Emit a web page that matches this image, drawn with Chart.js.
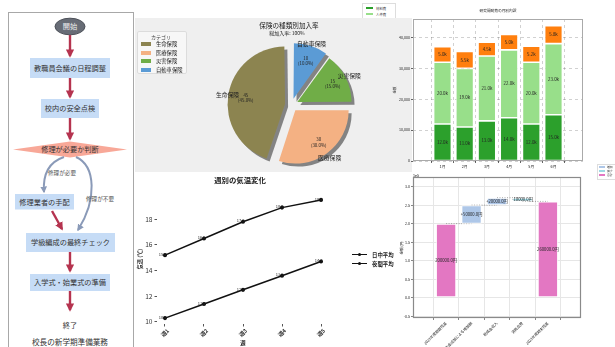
<!DOCTYPE html>
<html>
<head>
<meta charset="utf-8">
<script src="https://cdn.jsdelivr.net/npm/chart.js@4.4.0/dist/chart.umd.min.js"></script>
<style>
  body { margin: 0; width: 615px; height: 347px; overflow: hidden; background: #fff; position: relative;
         font-family: "Noto Sans CJK JP", "Noto Sans", sans-serif; }
  canvas, .abs { position: absolute; }
  .c { position: absolute; transform: translate(-50%, -50%); white-space: nowrap; color: #222; line-height: 1; }
  #piePanel { position: absolute; left: 135px; top: 18px; width: 277px; height: 154px; background: #efefef; z-index: 2; }
  #pie { left: 0; top: 0; }
  #bar { left: 390px; top: 0; z-index: 3; }
  #line { left: 134px; top: 172px; z-index: 3; }
  #fall { left: 390px; top: 172px; z-index: 4; }
</style>
</head>
<body>

<!-- 校長の新学期準備業務 フローチャート -->
<svg class="abs" style="left:0;top:0" width="135" height="347">
  <defs>
    <marker id="mr" viewBox="0 0 10 10" refX="8" refY="5" markerWidth="3.4" markerHeight="3.4" orient="auto">
      <path d="M0,0L10,5L0,10z" fill="#b5334f"/>
    </marker>
    <marker id="mb" viewBox="0 0 10 10" refX="8" refY="5" markerWidth="3.4" markerHeight="3.4" orient="auto">
      <path d="M0,0L10,5L0,10z" fill="#8a9ab8"/>
    </marker>
  </defs>
  <rect x="8.5" y="12.5" width="125" height="350" fill="#fff" stroke="#a8a8a8"/>
  <g font-family="Noto Sans CJK JP" font-size="7.2" fill="#333" text-anchor="middle">
    <ellipse cx="70" cy="26.5" rx="15" ry="8.3" fill="#676c76" stroke="#4b4f57"/>
    <text x="70" y="29" fill="#eee">開始</text>
    <line x1="70" y1="35" x2="70" y2="56" stroke="#b5334f" stroke-width="2.4" marker-end="url(#mr)"/>

    <rect x="30" y="58" width="80" height="20" fill="#c6dcf6"/>
    <text x="70" y="70.5">教職員会議の日程調整</text>
    <line x1="70" y1="78" x2="70" y2="97" stroke="#b5334f" stroke-width="2.4" marker-end="url(#mr)"/>

    <rect x="41" y="99" width="58" height="19" fill="#c6dcf6"/>
    <text x="70" y="111">校内の安全点検</text>
    <line x1="70" y1="118" x2="70" y2="139" stroke="#b5334f" stroke-width="2.4" marker-end="url(#mr)"/>

    <polygon points="13,149.5 70,141.5 127,149.5 70,157.5" fill="#f8a898"/>
    <text x="70" y="152">修理が必要か判断</text>

    <path d="M64 157 C46 163, 43 178, 44 192" fill="none" stroke="#8a9ab8" stroke-width="2" marker-end="url(#mb)"/>
    <path d="M76 157 C96 166, 97 200, 78 230" fill="none" stroke="#8a9ab8" stroke-width="2" marker-end="url(#mb)"/>
    <text x="62" y="174.5" font-size="5.6" fill="#555">修理が必要</text>
    <text x="100" y="201" font-size="5.6" fill="#555">修理が不要</text>

    <rect x="15" y="194" width="59" height="15.5" fill="#c6dcf6"/>
    <text x="44.5" y="204.5">修理業者の手配</text>
    <line x1="52" y1="211" x2="62" y2="229" stroke="#b5334f" stroke-width="2.4" marker-end="url(#mr)"/>

    <rect x="26" y="233" width="89" height="19" fill="#c6dcf6"/>
    <text x="70.5" y="245">学級編成の最終チェック</text>
    <line x1="70" y1="252" x2="70" y2="271" stroke="#b5334f" stroke-width="2.4" marker-end="url(#mr)"/>

    <rect x="30" y="274" width="80" height="17" fill="#c6dcf6"/>
    <text x="70" y="285">入学式・始業式の準備</text>
    <line x1="70" y1="291" x2="70" y2="310" stroke="#b5334f" stroke-width="2.4" marker-end="url(#mr)"/>

    <text x="70" y="328">終了</text>
    <text x="70" y="345" font-size="7.6">校長の新学期準備業務</text>
  </g>
</svg>

<!-- 研究開発費 凡例（上半分のみ見える） -->
<div class="abs" style="left:362px;top:3px;width:32px;height:22px;background:#fff;border:1px solid #ddd;z-index:1"></div>
<div class="abs" id="barLegend" style="left:366px;top:5px;z-index:1"></div>

<div id="piePanel">
  <canvas id="pie" width="277" height="154"></canvas>
  <div class="c" style="left:154px;top:7px;font-size:6.6px">保険の種類別加入率</div>
  <div class="c" style="left:152px;top:13.5px;font-size:5px">総加入率: 100%</div>
  <div class="abs" style="left:2px;top:13px;width:48px;height:41px;background:#f7f7f7;border:1px solid #dcdcdc;border-radius:2px"></div>
  <div class="c" style="left:26px;top:17.5px;font-size:5px;color:#444">カテゴリ</div>
  <div class="abs" id="pieLegend" style="left:6px;top:22px"></div>
</div>

<canvas id="bar" width="225" height="177"></canvas>
<div class="c" style="left:498px;top:11px;font-size:3.7px;z-index:5">研究開発費の月別内訳</div>

<canvas id="line" width="256" height="175"></canvas>
<div class="c" style="left:240px;top:180px;font-size:7.4px;font-weight:bold;z-index:5">週別の気温変化</div>
<div class="abs" id="lineLegend" style="left:352px;top:250px;z-index:5"></div>

<canvas id="fall" width="225" height="175"></canvas>
<div class="abs" style="left:597px;top:164px;width:20px;height:14px;background:#fff;border:1px solid #ddd;z-index:5"></div>
<div class="abs" id="fallLegend" style="left:599px;top:165px;z-index:6"></div>

<script>
// ---- 保険の種類別加入率 ----
const insuranceLabels = ['生命保険', '医療保険', '災害保険', '自動車保険'];
const insuranceValues = [45, 30, 15, 10];
const insuranceColors = ['#8c8450', '#f4b183', '#70ad47', '#5b9bd5'];

// ---- 研究開発費の月別内訳 ----
const months = ['1月', '2月', '3月', '4月', '5月', '6月'];
const costNames = ['材料費', '人件費', 'その他'];
const materialCost = [12000, 11000, 13000, 14000, 12000, 15000];
const laborCost = [20000, 19000, 21000, 22000, 20000, 23000];
const otherCost = [5000, 5500, 4500, 5000, 5200, 5800];
const costColors = ['#2ca02c', '#98df8a', '#ff7f0e'];
const costTicks = [0, 10000, 20000, 30000, 40000];

// ---- 週別の気温変化 ----
const weeks = ['週1', '週2', '週3', '週4', '週5'];
const dayTemp = [15.2, 16.5, 17.8, 18.9, 19.5];
const nightTemp = [10.3, 11.4, 12.5, 13.6, 14.7];
const tempTicks = [10, 12, 14, 16, 18];

// ---- 予算の増減（ウォーターフォール）----
const stepLabels = ['2023年度期首残高', '補助金追加による増加額', '助成金収入', '消耗品費', '2023年度期末残高'];
const stepValues = [200000, 50000, 20000, -10000, 260000];
const stepKinds = ['total', 'up', 'up', 'down', 'total'];
const kindNames = { up: '増加', down: '減少', total: '合計' };
const kindColors = { up: '#aec7e8', down: '#9edae5', total: '#e377c2' };
const fallTicks = [-50000, 0, 50000, 100000, 150000, 200000, 250000, 300000];

Chart.defaults.font.family = '"Noto Sans CJK JP", "Noto Sans", sans-serif';
Chart.defaults.color = '#222';
Chart.defaults.animation = false;
Chart.defaults.responsive = false;
Chart.defaults.plugins.legend.display = false;
Chart.defaults.plugins.tooltip.enabled = false;

const FONT = '"Noto Sans CJK JP", sans-serif';

// 枠線
const framePlugin = {
  id: 'frame',
  afterDraw(chart, args, opts) {
    const a = chart.chartArea, ctx = chart.ctx;
    ctx.save();
    ctx.strokeStyle = opts.color || '#999';
    ctx.lineWidth = opts.width || 1;
    ctx.strokeRect(a.left + 0.5, a.top + 0.5, a.right - a.left - 1, a.bottom - a.top - 1);
    ctx.restore();
  }
};

// ===== 円グラフ =====
const pieOrder = insuranceLabels.map((_, i) => i).reverse();   // matplotlib風に反時計回り

const shadowPlugin = {
  id: 'shadow',
  beforeDatasetsDraw(c) {
    c.ctx.save();
    c.ctx.shadowColor = 'rgba(0,0,0,0.45)';
    c.ctx.shadowOffsetX = 3;
    c.ctx.shadowOffsetY = 3;
  },
  afterDatasetsDraw(c) { c.ctx.restore(); }
};

const pieLabelPlugin = {
  id: 'pieLabels',
  afterDatasetsDraw(chart) {
    const ctx = chart.ctx;
    const ds = chart.data.datasets[0];
    const total = ds.data.reduce((a, b) => a + b, 0);
    chart.getDatasetMeta(0).data.forEach((arc, i) => {
      const mid = (arc.startAngle + arc.endAngle) / 2;
      const shift = arc.options.offset / 4;
      const cx = arc.x + Math.cos(mid) * shift;
      const cy = arc.y + Math.sin(mid) * shift;
      const r = arc.outerRadius;
      ctx.save();
      ctx.fillStyle = '#222';
      ctx.textAlign = 'center';
      ctx.textBaseline = 'middle';
      ctx.font = '5.8px ' + FONT;
      ctx.fillText(chart.data.labels[i], cx + Math.cos(mid) * r * 1.1, cy + Math.sin(mid) * r * 1.1);
      const px = cx + Math.cos(mid) * r * 0.75, py = cy + Math.sin(mid) * r * 0.75;
      ctx.font = '4.4px ' + FONT;
      ctx.fillText(String(ds.data[i]), px, py - 2.6);
      ctx.fillText('(' + (ds.data[i] / total * 100).toFixed(1) + '%)', px, py + 2.6);
      ctx.restore();
    });
  }
};

new Chart(document.getElementById('pie'), {
  type: 'pie',
  data: {
    labels: pieOrder.map(i => insuranceLabels[i]),
    datasets: [{
      data: pieOrder.map(i => insuranceValues[i]),
      backgroundColor: pieOrder.map(i => insuranceColors[i]),
      borderWidth: 0,
      offset: 26,
      radius: 53
    }]
  },
  options: {
    radius: 53,
    layout: { padding: { left: 36, top: 20 } }
  },
  plugins: [shadowPlugin, pieLabelPlugin]
});

document.getElementById('pieLegend').innerHTML = insuranceLabels.map((l, i) =>
  `<div style="display:flex;align-items:center;height:8.5px;font-size:5.3px;color:#222">
     <span style="display:inline-block;width:10px;height:4px;background:${insuranceColors[i]};margin-right:5px"></span>${l}</div>`
).join('');

// ===== 積み上げ棒グラフ =====
const barLabelPlugin = {
  id: 'barLabels',
  afterDatasetsDraw(chart) {
    const ctx = chart.ctx;
    ctx.save();
    ctx.font = '4.4px ' + FONT;
    ctx.fillStyle = '#222';
    ctx.textAlign = 'center';
    ctx.textBaseline = 'middle';
    chart.data.datasets.forEach((ds, di) => {
      chart.getDatasetMeta(di).data.forEach((el, i) => {
        ctx.fillText((ds.data[i].y / 1000).toFixed(1) + 'k', el.x, (el.y + el.base) / 2);
      });
    });
    ctx.restore();
  }
};

const costSeries = [materialCost, laborCost, otherCost];
new Chart(document.getElementById('bar'), {
  type: 'bar',
  data: {
    datasets: costSeries.map((s, k) => ({
      label: costNames[k],
      data: s.map((v, i) => ({ x: i, y: v })),
      backgroundColor: costColors[k],
      borderColor: '#fff',
      borderWidth: 0.8,
      borderSkipped: false,
      barPercentage: 0.8,
      categoryPercentage: 1
    }))
  },
  options: {
    layout: { padding: { left: 0, top: 19, right: 32, bottom: 0 } },
    scales: {
      x: {
        type: 'linear', stacked: true, min: -0.69, max: 5.69,
        afterBuildTicks: s => { s.ticks = months.map((_, i) => ({ value: i })); },
        ticks: { callback: v => months[v], font: { size: 3.8 }, padding: 1, maxRotation: 0 },
        grid: { color: 'rgba(0,0,0,0.18)', tickLength: 2, tickColor: '#666' },
        border: { display: false, dash: [3, 3] },
        afterFit: s => { s.height = 16; }
      },
      y: {
        stacked: true, min: 0, max: 45990,
        afterBuildTicks: s => { s.ticks = costTicks.map(v => ({ value: v })); },
        ticks: { font: { size: 3.6 }, padding: 1 },
        grid: { color: 'rgba(0,0,0,0.18)', tickLength: 2, tickColor: '#666' },
        border: { display: false, dash: [3, 3] },
        title: { display: true, text: '金額', font: { size: 3.4 }, padding: { top: 3 } },
        afterFit: s => { s.width = 23; }
      }
    },
    plugins: { frame: { color: '#aaa' } }
  },
  plugins: [framePlugin, barLabelPlugin]
});

document.getElementById('barLegend').innerHTML = costNames.map((n, i) =>
  `<div style="display:flex;align-items:center;height:6px;font-size:3.4px;color:#333">
     <span style="display:inline-block;width:7px;height:2.5px;background:${costColors[i]};margin-right:3px"></span>${n}</div>`
).join('');

// ===== 折れ線グラフ =====
const pointLabelPlugin = {
  id: 'pointLabels',
  afterDatasetsDraw(chart) {
    const ctx = chart.ctx;
    ctx.save();
    ctx.font = '4px ' + FONT;
    ctx.fillStyle = '#222';
    ctx.textAlign = 'right';
    ctx.textBaseline = 'middle';
    chart.data.datasets.forEach((ds, di) => {
      chart.getDatasetMeta(di).data.forEach((pt, i) => {
        ctx.fillText(ds.data[i].y.toFixed(1), pt.x + 1.5, pt.y - 0.8);
      });
    });
    ctx.restore();
  }
};

const tempSeries = [dayTemp, nightTemp];
const tempNames = ['日中平均', '夜間平均'];
new Chart(document.getElementById('line'), {
  type: 'line',
  data: {
    datasets: tempSeries.map((s, k) => ({
      label: tempNames[k],
      data: s.map((v, i) => ({ x: i, y: v })),
      borderColor: '#111',
      backgroundColor: '#111',
      borderWidth: 1.5,
      pointRadius: 1.3,
      tension: 0
    }))
  },
  options: {
    layout: { padding: { left: 0, top: 22, right: 61, bottom: 0 } },
    scales: {
      x: {
        type: 'linear', min: -0.205, max: 4.205,
        afterBuildTicks: s => { s.ticks = weeks.map((_, i) => ({ value: i })); },
        ticks: { callback: v => weeks[v], font: { size: 5.4, weight: 'bold' }, minRotation: 45, maxRotation: 45, padding: 1, labelOffset: 3, color: '#333' },
        grid: { drawOnChartArea: false, tickLength: 2.5, tickColor: '#555' },
        border: { display: false },
        title: { display: true, text: '週', font: { size: 5.4, weight: 'bold' }, padding: { top: 0, bottom: 1 } },
        afterFit: s => { s.height = 23; }
      },
      y: {
        min: 9.84, max: 19.96,
        afterBuildTicks: s => { s.ticks = tempTicks.map(v => ({ value: v })); },
        ticks: { font: { size: 6.6 }, padding: 2, color: '#333' },
        grid: { drawOnChartArea: false, tickLength: 2.5, tickColor: '#555' },
        border: { display: false },
        title: { display: true, text: '気温 (℃)', font: { size: 5.2, weight: 'bold' }, padding: { top: 3 } },
        afterFit: s => { s.width = 23; }
      }
    }
  },
  plugins: [pointLabelPlugin]
});

document.getElementById('lineLegend').innerHTML = tempNames.map(n =>
  `<div style="display:flex;align-items:center;height:9px;font-size:5.4px;font-weight:bold;color:#222">
     <span style="position:relative;display:inline-block;width:15px;height:1.5px;background:#111;margin-right:5px">
       <span style="position:absolute;left:6px;top:-1px;width:3px;height:3px;border-radius:50%;background:#111"></span></span>${n}</div>`
).join('');

// ===== ウォーターフォール =====
const fallBars = [];
const fallLevels = [];
let running = 0;
stepValues.forEach((v, i) => {
  if (stepKinds[i] === 'total') { fallBars.push([0, v]); running = v; }
  else { fallBars.push([Math.min(running, running + v), Math.max(running, running + v)]); running += v; }
  fallLevels.push(running);
});

const connectorPlugin = {
  id: 'connectors',
  beforeDatasetsDraw(chart) {
    const { ctx, scales: { x, y } } = chart;
    ctx.save();
    ctx.strokeStyle = '#888';
    ctx.lineWidth = 0.8;
    ctx.setLineDash([1, 1.5]);
    for (let i = 0; i < fallLevels.length - 1; i++) {
      const py = y.getPixelForValue(fallLevels[i]);
      ctx.beginPath();
      ctx.moveTo(x.getPixelForValue(i), py);
      ctx.lineTo(x.getPixelForValue(i + 1), py);
      ctx.stroke();
    }
    ctx.restore();
  },
  afterDatasetsDraw(chart) {
    const ctx = chart.ctx;
    ctx.save();
    ctx.font = '4.2px ' + FONT;
    ctx.fillStyle = '#222';
    ctx.textAlign = 'center';
    ctx.textBaseline = 'middle';
    chart.getDatasetMeta(0).data.forEach((el, i) => {
      const v = stepValues[i];
      const txt = (stepKinds[i] === 'total' ? '' : (v > 0 ? '+' : '')) + v.toFixed(1) + '円';
      ctx.fillText(txt, el.x, (el.y + el.base) / 2);
    });
    const a = chart.chartArea;
    ctx.font = '3.6px ' + FONT;
    ctx.textAlign = 'left';
    ctx.textBaseline = 'bottom';
    ctx.fillText('1e5', a.left, a.top);
    ctx.restore();
  }
};

new Chart(document.getElementById('fall'), {
  type: 'bar',
  data: {
    datasets: [{
      data: fallBars.map((b, i) => ({ x: i, y: b })),
      backgroundColor: stepKinds.map(k => kindColors[k]),
      borderColor: 'rgba(255,255,255,0.8)',
      borderWidth: 1,
      borderSkipped: false,
      barPercentage: 0.8,
      categoryPercentage: 1
    }]
  },
  options: {
    layout: { padding: { left: 0, top: 5, right: 34, bottom: 0 } },
    scales: {
      x: {
        type: 'linear', min: -0.64, max: 4.64,
        afterBuildTicks: s => { s.ticks = stepLabels.map((_, i) => ({ value: i })); },
        ticks: { callback: v => stepLabels[v], font: { size: 3.7 }, minRotation: 45, maxRotation: 45, autoSkip: false, padding: 1 },
        grid: { color: '#e6e6e6', tickLength: 2, tickColor: '#888' },
        border: { display: false },
        afterFit: s => { s.height = 29; }
      },
      y: {
        min: -55000, max: 326000,
        afterBuildTicks: s => { s.ticks = fallTicks.map(v => ({ value: v })); },
        ticks: { callback: v => (v / 1e5).toFixed(1), font: { size: 3.6 }, padding: 1 },
        grid: { color: '#e6e6e6', tickLength: 2, tickColor: '#888' },
        border: { display: false },
        title: { display: true, text: '金額 (円)', font: { size: 3.6 }, padding: { top: 9 } },
        afterFit: s => { s.width = 23; }
      }
    },
    plugins: { frame: { color: '#8a8a8a', width: 1.2 } }
  },
  plugins: [framePlugin, connectorPlugin]
});

document.getElementById('fallLegend').innerHTML = ['up', 'down', 'total'].map(k =>
  `<div style="display:flex;align-items:center;height:4px;font-size:2.8px;color:#333">
     <span style="display:inline-block;width:6px;height:1.2px;background:${kindColors[k]};margin-right:2px"></span>${kindNames[k]}</div>`
).join('');
</script>
</body>
</html>
